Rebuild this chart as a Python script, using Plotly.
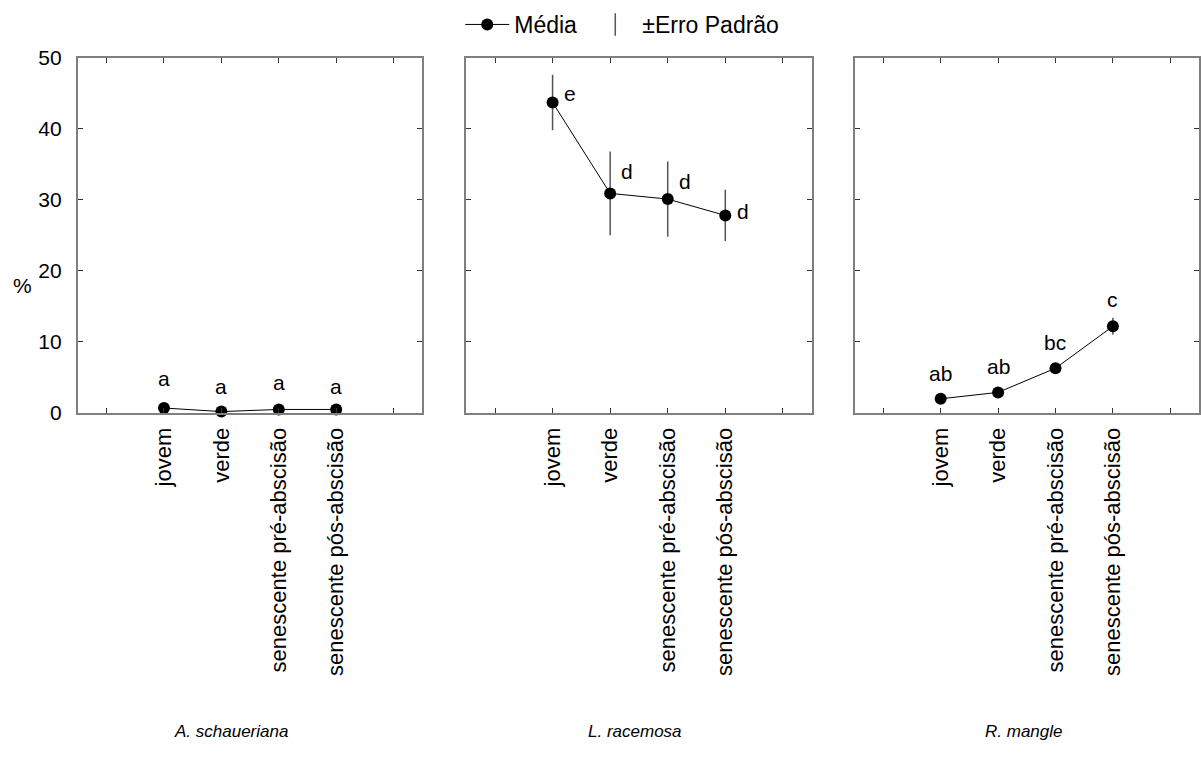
import plotly.graph_objects as go

# Leaf stage categories shown on each panel's x axis
stages = ["jovem", "verde", "senescente pré-abscisão", "senescente pós-abscisão"]
tick_text = [""] + stages + [""]

species = ["A. schaueriana", "L. racemosa", "R. mangle"]

# Mean (%) and standard error per stage, for each species
mean_schaueriana = [0.7, 0.2, 0.5, 0.5]
se_schaueriana = [0.2, 0.1, 0.15, 0.15]
letters_schaueriana = ["a", "a", "a", "a"]

mean_racemosa = [43.7, 30.9, 30.1, 27.8]
se_racemosa = [3.9, 5.9, 5.3, 3.6]
letters_racemosa = ["e", "d", "d", "d"]

mean_mangle = [2.0, 2.9, 6.3, 12.2]
se_mangle = [0.3, 0.4, 0.5, 1.2]
letters_mangle = ["ab", "ab", "bc", "c"]

means = [mean_schaueriana, mean_racemosa, mean_mangle]
ses = [se_schaueriana, se_racemosa, se_mangle]
letters = [letters_schaueriana, letters_racemosa, letters_mangle]

# Letter placement (pixel offsets from each point)
letter_dx = [[0, 0, 0, 0], [17, 17, 17, 18], [0, 0, 0, 0]]
letter_dy = [[30, 25, 27, 23], [9, 22, 18, 4], [25, 26, 26, 27]]

W, H = 1201, 772
FONT = "Liberation Sans, Arial, sans-serif"
x_pos = [1, 2, 3, 4]

# panel pixel extents
panels_px = [(78, 423), (467, 813), (856, 1201)]
top_px, bottom_px = 56, 413


def paper_y(py):
    """Convert a pixel row into paper y (paper spans the plot area rows)."""
    return (bottom_px - py) / (bottom_px - top_px)


fig = go.Figure()

for i in range(3):
    xa = "x" if i == 0 else f"x{i+1}"
    ya = "y" if i == 0 else f"y{i+1}"
    fig.add_trace(go.Scatter(
        x=x_pos, y=means[i], xaxis=xa, yaxis=ya,
        mode="lines+markers",
        line=dict(color="black", width=1),
        marker=dict(color="black", size=12),
        error_y=dict(type="data", array=ses[i], visible=True,
                     color="#555555", thickness=1.5, width=0),
        cliponaxis=False,
        showlegend=False,
    ))
    for j in range(4):
        fig.add_annotation(
            x=x_pos[j], y=means[i][j], xref=xa, yref=ya,
            text=letters[i][j], showarrow=False,
            xshift=letter_dx[i][j], yshift=letter_dy[i][j],
            font=dict(family=FONT, size=21, color="black"),
        )

# legend entries (a non-breaking space widens the gap between the two items)
fig.add_trace(go.Scatter(
    x=[None], y=[None], mode="lines+markers", name="Média\u00a0",
    line=dict(color="black", width=1), marker=dict(color="black", size=12),
    showlegend=True,
))
fig.add_trace(go.Scatter(
    x=[None], y=[None], mode="markers", name="±Erro Padrão",
    marker=dict(symbol="line-ns", size=22, color="#555555",
                line=dict(color="#555555", width=1.5)),
    showlegend=True,
))

axis_common = dict(
    showline=True, linecolor="#7f7f7f", linewidth=2, mirror="ticks",
    ticks="inside", ticklen=5, tickwidth=1, tickcolor="#333333",
    showgrid=False, zeroline=False,
)

layout = dict(
    width=W, height=H,
    margin=dict(l=0, r=0, t=top_px, b=H - bottom_px),
    paper_bgcolor="white", plot_bgcolor="white",
    font=dict(family=FONT, size=21, color="black"),
    legend=dict(orientation="h", x=461 / W, xanchor="left", y=1 - 3 / H,
                yref="container", yanchor="top",
                font=dict(family=FONT, size=23, color="black"),
                itemsizing="trace", itemwidth=44),
)

for i in range(3):
    xk = "xaxis" if i == 0 else f"xaxis{i+1}"
    yk = "yaxis" if i == 0 else f"yaxis{i+1}"
    l, r = panels_px[i]
    layout[xk] = dict(
        axis_common, domain=[l / W, r / W], range=[-0.5, 5.5],
        tickvals=list(range(6)), ticktext=tick_text, tickangle=-90,
        tickfont=dict(family=FONT, size=22), ticklabelstandoff=4,
        anchor="y" if i == 0 else f"y{i+1}",
    )
    layout[yk] = dict(
        axis_common, range=[0, 50], tickvals=[0, 10, 20, 30, 40, 50],
        showticklabels=(i == 0), tickfont=dict(family=FONT, size=21),
        ticklabelstandoff=10,
        anchor="x" if i == 0 else f"x{i+1}",
    )

fig.update_layout(**layout)

# y-axis title
fig.add_annotation(x=23 / W, y=paper_y(285), xref="paper", yref="paper",
                   xanchor="center", yanchor="middle",
                   text="%", showarrow=False,
                   font=dict(family=FONT, size=21, color="black"))

# species names under each panel
species_x = [231, 636, 1025]
for name, sx in zip(species, species_x):
    fig.add_annotation(x=sx / W, y=paper_y(733), xref="paper", yref="paper",
                       xanchor="center", yanchor="middle",
                       text=f"<i>{name}</i>", showarrow=False,
                       font=dict(family=FONT, size=17, color="black"))

fig.write_html("out.html")
